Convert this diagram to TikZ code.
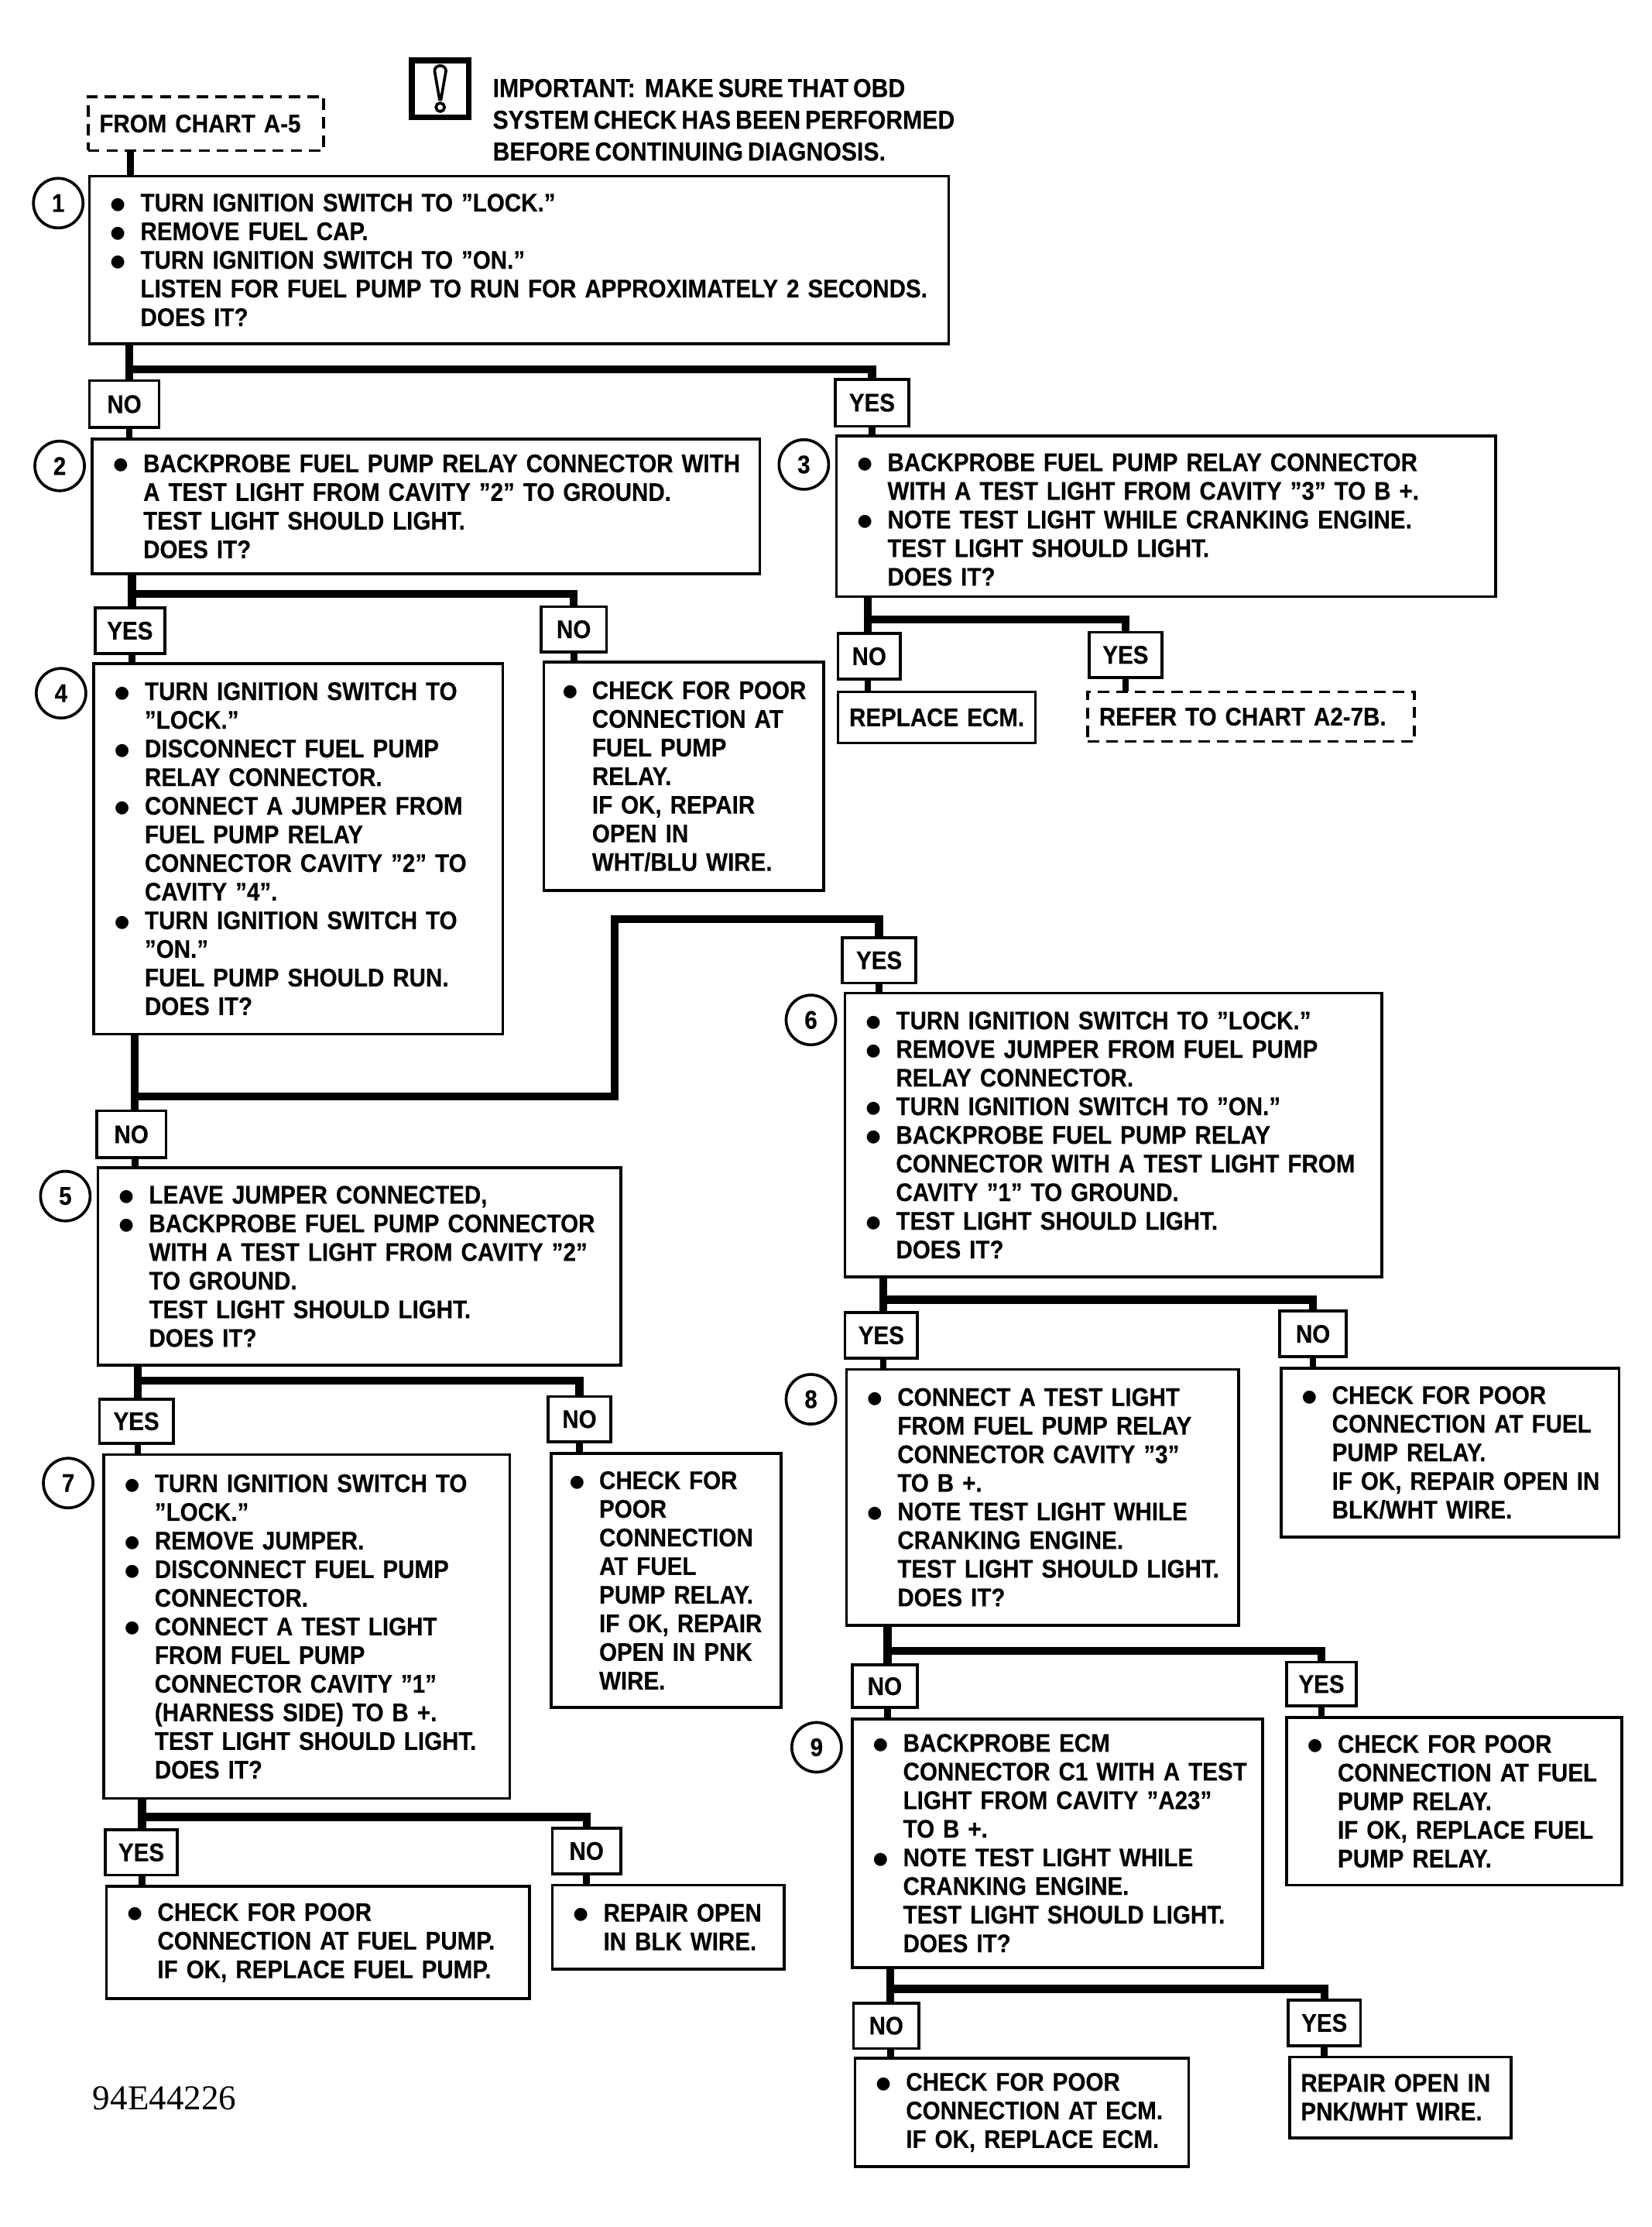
\documentclass[tikz,border=0pt]{standalone}
\usepackage{fontspec}
\setmainfont{Liberation Sans}[BoldFont=* Bold,BoldFeatures={FakeBold=0.25},FakeStretch=0.897,WordSpace=0.72]
\newfontfamily\numfont{Liberation Serif}[FakeStretch=1.0]
\newfontfamily\dotfont{DejaVu Sans}
\newcommand\bu{\makebox[18pt][l]{\hspace{7.4pt}\raisebox{0.8pt}{\dotfont\fontsize{6}{6}\selectfont ●}}}
\newcommand\cn{\hspace*{18pt}}
\newcommand\bs{\makebox[17pt][l]{\hspace{6.6pt}\raisebox{0.8pt}{\dotfont\fontsize{6}{6}\selectfont ●}}}
\newcommand\cs{\hspace*{17pt}}
\newcommand\pn{\hspace*{4pt}}
\tikzset{
  x=0.501pt,y=0.501pt,
  framebox/.style={draw,line width=1pt,rectangle,inner sep=0pt,outer sep=0pt,align=left,
    font=\fontsize{9}{10.1}\selectfont\bfseries},
  dashbox/.style={framebox,dash pattern=on 4pt off 2.5pt},
  labelbox/.style={draw,line width=1pt,rectangle,inner sep=0pt,outer sep=0pt,align=center,
    font=\fontsize{9}{10.1}\selectfont\bfseries},
  numcircle/.style={draw,circle,line width=1pt,minimum size=17.5pt,inner sep=0pt,
    font=\fontsize{9}{10.1}\selectfont\bfseries},
  conn/.style={line width=2.8pt,line join=miter},
  stub/.style={line width=2.4pt},
  plain/.style={inner sep=0pt,outer sep=0pt,align=left,anchor=north west,
    font=\fontsize{9.2}{11.2}\selectfont\bfseries},
}
\newcommand\BX[7][framebox]{%
  \pgfmathsetmacro\bxw{(#5-#3)*0.501}\pgfmathsetmacro\bxh{(#6-#4)*0.501}%
  \pgfmathsetmacro\bxx{(#3+#5)/2}\pgfmathsetmacro\bxy{-(#4+#6)/2}%
  \node[#1,text width=\bxw pt,minimum width=\bxw pt,minimum height=\bxh pt] (#2) at (\bxx,\bxy) {#7};}
\newcommand\LB[6]{%
  \pgfmathsetmacro\bxw{(#4-#2)*0.501}\pgfmathsetmacro\bxh{(#5-#3)*0.501}%
  \pgfmathsetmacro\bxx{(#2+#4)/2}\pgfmathsetmacro\bxy{-(#3+#5)/2}%
  \node[labelbox,minimum width=\bxw pt,minimum height=\bxh pt] (#1) at (\bxx,\bxy) {#6};}
\newcommand\NC[4]{\node[numcircle] (#1) at (#2,-#3) {#4};}
\newcommand\BR[7]{% junction name, x, y, top box, left label, right label, next left box
  \coordinate (#1) at (#2,-#3);
  \draw[conn] (#1 |- #4.south) -- (#1 |- #5.north);
  \draw[conn] (#1) -| (#6.north);
  \draw[stub] (#1 |- #5.south) -- (#1 |- #7.north);}
\newcommand\ST[2]{\draw[stub] (#1.south) -- (#1.south |- #2.north);}
\begin{document}
\begin{tikzpicture}
\useasboundingbox (0,0) rectangle (1162.7,-1567.7);
\fill[white] (0,0) rectangle (1162.7,-1567.7);

% header
\node[draw,line width=2pt,rectangle,inner sep=0pt,minimum width=20pt,minimum height=20pt] (icon) at (310,-62.5) {};
\draw[line width=1pt] (306,-50) .. controls (306,-45) and (314,-45) .. (314,-50) -- (310.5,-70) -- (309.5,-70) -- cycle;
\draw[line width=1pt] (310,-75.5) circle (3);
\node[plain] (imp) at (347,-55.5) {IMPORTANT:\ \ MAKE SURE THAT OBD\\SYSTEM CHECK HAS BEEN PERFORMED\\BEFORE CONTINUING DIAGNOSIS.};

\BX[dashbox]{from}{62}{68}{228}{106}{\pn FROM CHART A-5}
\BX{b1}{63}{124}{668}{242}{\bu TURN IGNITION SWITCH TO "LOCK."\\\bu REMOVE FUEL CAP.\\\bu TURN IGNITION SWITCH TO "ON."\\\cn LISTEN FOR FUEL PUMP TO RUN FOR APPROXIMATELY 2 SECONDS.\\\cn DOES IT?}
\NC{c1}{41}{143}{1}
\draw[stub] (from.south -| 92,0) -- (b1.north -| 92,0);

\LB{no1}{63}{268}{112}{301}{NO}
\LB{yes1}{588}{267}{640}{300}{YES}
\BX{b2}{65}{309}{535}{404}{\bu BACKPROBE FUEL PUMP RELAY CONNECTOR WITH\\\cn A TEST LIGHT FROM CAVITY "2" TO GROUND.\\\cn TEST LIGHT SHOULD LIGHT.\\\cn DOES IT?}
\NC{c2}{42}{328}{2}
\BX{b3}{589}{307}{1053}{420}{\rule{0pt}{8.5pt}\bu BACKPROBE FUEL PUMP RELAY CONNECTOR\\\cn WITH A TEST LIGHT FROM CAVITY "3" TO B +.\\\bu NOTE TEST LIGHT WHILE CRANKING ENGINE.\\\cn TEST LIGHT SHOULD LIGHT.\\\cn DOES IT?}
\NC{c3}{566}{327}{3}
\BR{j1}{91}{260}{b1}{no1}{yes1}{b2}
\ST{yes1}{b3}

\LB{yes2}{67}{428}{116}{460}{YES}
\LB{no2}{381}{427}{427}{459}{NO}
\BX{b4}{66}{467}{354}{728}{\bu TURN IGNITION SWITCH TO\\\cn "LOCK."\\\bu DISCONNECT FUEL PUMP\\\cn RELAY CONNECTOR.\\\bu CONNECT A JUMPER FROM\\\cn FUEL PUMP RELAY\\\cn CONNECTOR CAVITY "2" TO\\\cn CAVITY "4".\\\bu TURN IGNITION SWITCH TO\\\cn "ON."\\\cn FUEL PUMP SHOULD RUN.\\\cn DOES IT?}
\NC{c4}{43}{488}{4}
\BX{b4n}{383}{466}{580}{627}{\bs CHECK FOR POOR\\\cs CONNECTION AT\\\cs FUEL PUMP\\\cs RELAY.\\\cs IF OK, REPAIR\\\cs OPEN IN\\\cs WHT/BLU WIRE.}
\BR{j2}{93}{418}{b2}{yes2}{no2}{b4}
\ST{no2}{b4n}

\LB{no3}{590}{446}{634}{478}{NO}
\LB{yes3}{767}{445}{818}{477}{YES}
\BX{ecm}{590}{487}{729}{523}{\pn REPLACE ECM.}
\BX[dashbox]{a27}{766}{487}{996}{522}{\pn REFER TO CHART A2-7B.}
\BR{j3}{611}{436}{b3}{no3}{yes3}{ecm}
\ST{yes3}{a27}

\LB{yes4}{593}{660}{645}{692}{YES}
\LB{no4}{68}{782}{117}{815}{NO}
\BX{b5}{69}{822}{437}{961}{\bu LEAVE JUMPER CONNECTED,\\\bu BACKPROBE FUEL PUMP CONNECTOR\\\cn WITH A TEST LIGHT FROM CAVITY "2"\\\cn TO GROUND.\\\cn TEST LIGHT SHOULD LIGHT.\\\cn DOES IT?}
\NC{c5}{46}{842}{5}
\BX{b6}{595}{699}{973}{899}{\bu TURN IGNITION SWITCH TO "LOCK."\\\bu REMOVE JUMPER FROM FUEL PUMP\\\cn RELAY CONNECTOR.\\\bu TURN IGNITION SWITCH TO "ON."\\\bu BACKPROBE FUEL PUMP RELAY\\\cn CONNECTOR WITH A TEST LIGHT FROM\\\cn CAVITY "1" TO GROUND.\\\bu TEST LIGHT SHOULD LIGHT.\\\cn DOES IT?}
\NC{c6}{571}{718}{6}
\coordinate (j4) at (95,-772);
\coordinate (j4up) at (433,-647);
\draw[conn] (j4 |- b4.south) -- (j4 |- no4.north);
\draw[conn] (j4) -| (j4up) -| (yes4.north);
\draw[stub] (j4 |- no4.south) -- (j4 |- b5.north);
\ST{yes4}{b6}

\LB{yes5}{70}{985}{122}{1016}{YES}
\LB{no5}{386}{983}{430}{1015}{NO}
\BX{b7}{73}{1024}{359}{1266}{\bu TURN IGNITION SWITCH TO\\\cn "LOCK."\\\bu REMOVE JUMPER.\\\bu DISCONNECT FUEL PUMP\\\cn CONNECTOR.\\\bu CONNECT A TEST LIGHT\\\cn FROM FUEL PUMP\\\cn CONNECTOR CAVITY "1"\\\cn (HARNESS SIDE) TO B +.\\\cn TEST LIGHT SHOULD LIGHT.\\\cn DOES IT?}
\NC{c7}{48}{1044}{7}
\BX{b7n}{388}{1023}{550}{1202}{\bs CHECK FOR\\\cs POOR\\\cs CONNECTION\\\cs AT FUEL\\\cs PUMP RELAY.\\\cs IF OK, REPAIR\\\cs OPEN IN PNK\\\cs WIRE.}
\BR{j5}{97}{972}{b5}{yes5}{no5}{b7}
\ST{no5}{b7n}

\LB{yes6}{595}{924}{646}{956}{YES}
\LB{no6}{901}{923}{948}{955}{NO}
\BX{b8}{596}{964}{872}{1144}{\bu CONNECT A TEST LIGHT\\\cn FROM FUEL PUMP RELAY\\\cn CONNECTOR CAVITY "3"\\\cn TO B +.\\\bu NOTE TEST LIGHT WHILE\\\cn CRANKING ENGINE.\\\cn TEST LIGHT SHOULD LIGHT.\\\cn DOES IT?}
\NC{c8}{571}{985}{8}
\BX{b8n}{902}{963}{1140}{1082}{\bu CHECK FOR POOR\\\cn CONNECTION AT FUEL\\\cn PUMP RELAY.\\\cn IF OK, REPAIR OPEN IN\\\cn BLK/WHT WIRE.}
\BR{j6}{622}{915}{b6}{yes6}{no6}{b8}
\ST{no6}{b8n}

\LB{no8}{600}{1172}{646}{1202}{NO}
\LB{yes8}{906}{1170}{955}{1201}{YES}
\BX{b9}{600}{1210}{889}{1385}{\bu BACKPROBE ECM\\\cn CONNECTOR C1 WITH A TEST\\\cn LIGHT FROM CAVITY "A23"\\\cn TO B +.\\\bu NOTE TEST LIGHT WHILE\\\cn CRANKING ENGINE.\\\cn TEST LIGHT SHOULD LIGHT.\\\cn DOES IT?}
\NC{c9}{575}{1230}{9}
\BX{b8y}{906}{1209}{1142}{1327}{\bu CHECK FOR POOR\\\cn CONNECTION AT FUEL\\\cn PUMP RELAY.\\\cn IF OK, REPLACE FUEL\\\cn PUMP RELAY.}
\BR{j7}{625}{1162}{b8}{no8}{yes8}{b9}
\ST{yes8}{b8y}

\LB{no9}{601}{1410}{647}{1442}{NO}
\LB{yes9}{907}{1408}{958}{1440}{YES}
\BX{b9n}{602}{1449}{837}{1525}{\bu CHECK FOR POOR\\\cn CONNECTION AT ECM.\\\cn IF OK, REPLACE ECM.}
\BX{b9y}{908}{1448}{1064}{1505}{\pn REPAIR OPEN IN\\\pn PNK/WHT WIRE.}
\BR{j8}{627}{1400}{b9}{no9}{yes9}{b9n}
\ST{yes9}{b9y}

\LB{yes7}{74}{1288}{125}{1320}{YES}
\LB{no7}{389}{1287}{437}{1319}{NO}
\BX{b10}{75}{1328}{373}{1407}{\bu CHECK FOR POOR\\\cn CONNECTION AT FUEL PUMP.\\\cn IF OK, REPLACE FUEL PUMP.}
\BX{b10n}{389}{1327}{552}{1386}{\bu REPAIR OPEN\\\cn IN BLK WIRE.}
\BR{j9}{100}{1279}{b7}{yes7}{no7}{b10}
\ST{no7}{b10n}

\node[inner sep=0pt,anchor=west,font=\numfont\fontsize{12.3}{14}\selectfont] (code) at (65,-1477) {94E44226};
\end{tikzpicture}
\end{document}
